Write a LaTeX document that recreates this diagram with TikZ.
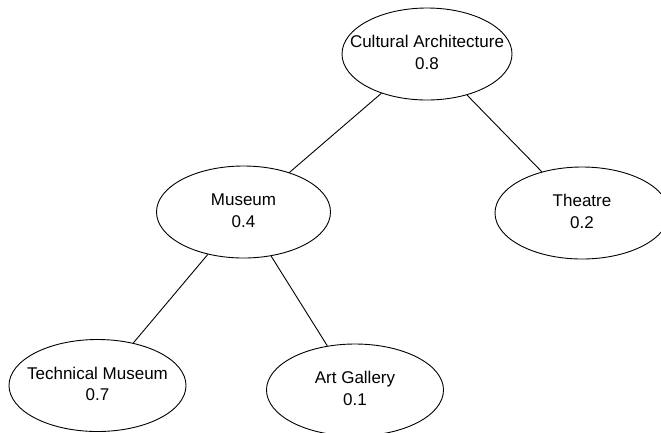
\documentclass[tikz,border=0pt]{standalone}
\usepackage{fontspec}
\setmainfont{Liberation Sans}
\usetikzlibrary{shapes.geometric}
% two centred lines whose width does not enlarge the ellipse around them
\newcommand{\twolines}[2]{\makebox[0pt]{\begin{tabular}{@{}c@{}}#1\\#2\end{tabular}}}
\begin{document}
\begin{tikzpicture}[x=1pt,y=-1pt,
  concept/.style={ellipse,draw,line width=0.9pt,inner sep=0pt,
    minimum width=174pt,minimum height=92pt,
    font=\fontsize{17}{21.5}\selectfont},
  link/.style={line width=0.9pt}]
  \clip (0,0) rectangle (661,432);
  \useasboundingbox (0,0) rectangle (661,432);
  \node[concept,minimum width=170pt] (arch) at (427,54) {\twolines{Cultural Architecture}{0.8}};
  \node[concept] (museum) at (243.5,212) {\twolines{Museum}{0.4}};
  \node[concept] (theatre) at (582,213) {\twolines{Theatre}{0.2}};
  \node[concept,minimum width=177pt] (tech) at (97.5,385.5) {\twolines{Technical Museum}{0.7}};
  \node[concept,minimum width=177pt] (art) at (355,390) {\twolines{Art Gallery}{0.1}};
  \draw[link] (arch) -- (museum);
  \draw[link] (arch) -- (theatre);
  \draw[link] (museum) -- (tech);
  \draw[link] (museum) -- (art);
\end{tikzpicture}
\end{document}
